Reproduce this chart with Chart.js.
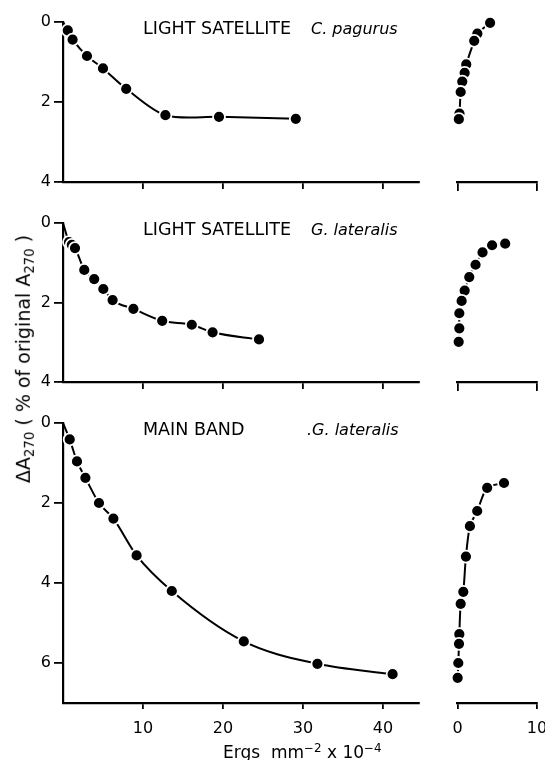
<!DOCTYPE html>
<html>
<head>
<meta charset="utf-8">
<script src="https://cdn.jsdelivr.net/npm/chart.js@4"></script>
<style>
  body { margin: 0; background: #fff; }
  #wrap { position: relative; width: 545px; height: 760px; overflow: hidden; background: #fff;
          font-family: "DejaVu Sans", sans-serif; color: #000; }
  #wrap canvas { position: absolute; left: 0; top: 0; }
  .lbl { position: absolute; white-space: nowrap; line-height: 1; transform: translateY(-50%); }
  .name { font-size: 17.5px; }
  .sp { font-size: 16px; font-style: italic; }
  #ytitle { position: absolute; left: 25px; top: 359px; white-space: nowrap; font-size: 19px; line-height: 1;
            transform: translate(-50%, -50%) rotate(-90deg); }
  #xtitle { position: absolute; left: 223px; top: 752px; white-space: nowrap; font-size: 17px; line-height: 1;
            transform: translateY(-50%); }
  sub { font-size: 0.7em; vertical-align: -0.3em; }
  sup { font-size: 0.7em; vertical-align: 0.55em; }
</style>
</head>
<body>
<div id="wrap">
  <canvas id="tl" width="560" height="760"></canvas>
  <canvas id="tr" width="560" height="760"></canvas>
  <canvas id="ml" width="560" height="760"></canvas>
  <canvas id="mr" width="560" height="760"></canvas>
  <canvas id="bl" width="560" height="760"></canvas>
  <canvas id="br" width="560" height="760"></canvas>

  <div class="lbl name" style="left:143px; top:29px;">LIGHT SATELLITE</div>
  <div class="lbl sp" style="left:311px; top:29px;">C. pagurus</div>
  <div class="lbl name" style="left:143px; top:230px;">LIGHT SATELLITE</div>
  <div class="lbl sp" style="left:311px; top:230px;">G. lateralis</div>
  <div class="lbl name" style="left:143px; top:430px;">MAIN BAND</div>
  <div class="lbl sp" style="left:307px; top:430px;">.G. lateralis</div>

  <div id="ytitle">&Delta;A<sub>270</sub> ( % of original A<sub>270</sub> )</div>
  <div id="xtitle">Ergs&nbsp; mm<sup>&minus;2</sup> x 10<sup>&minus;4</sup></div>
</div>

<script>
// Light satellite, C. pagurus
const pagurusDose = [0.6, 1.2, 3.0, 5.0, 7.9, 12.8, 19.5, 29.1];
const pagurusLoss = [0.21, 0.44, 0.85, 1.16, 1.67, 2.33, 2.37, 2.42];
const pagurusInsetX = [4.1, 2.5, 2.1, 1.1, 0.9, 0.6, 0.4, 0.25, 0.17];
const pagurusInsetY = [0.02, 0.29, 0.47, 1.06, 1.27, 1.49, 1.75, 2.29, 2.43];

// Light satellite, G. lateralis
const lateralisDose = [0.75, 1.1, 1.5, 2.66, 3.9, 5.04, 6.2, 8.8, 12.4, 16.1, 18.7, 24.5];
const lateralisLoss = [0.48, 0.55, 0.63, 1.18, 1.41, 1.66, 1.94, 2.16, 2.46, 2.56, 2.75, 2.93];
const lateralisInsetX = [6.0, 4.35, 3.15, 2.27, 1.48, 0.9, 0.52, 0.23, 0.23, 0.15];
const lateralisInsetY = [0.52, 0.56, 0.74, 1.05, 1.36, 1.7, 1.96, 2.27, 2.65, 2.99];

// Main band, G. lateralis
const mainDose = [0.84, 1.75, 2.8, 4.5, 6.3, 9.2, 13.6, 22.6, 31.8, 41.2];
const mainLoss = [0.41, 0.96, 1.37, 2.0, 2.39, 3.31, 4.2, 5.46, 6.02, 6.28];
const mainInsetX = [5.85, 3.73, 2.48, 1.56, 1.06, 0.73, 0.4, 0.23, 0.19, 0.1, 0.02];
const mainInsetY = [1.5, 1.62, 2.2, 2.58, 3.34, 4.22, 4.52, 5.28, 5.52, 6.0, 6.37];

// curves start at the origin
const curveStart = 0;

const doseTicks = [0, 10, 20, 30, 40];
const insetTicks = [0, 10];

const W = 560, H = 760;
const FONT = { family: 'DejaVu Sans', size: 16 };

function makePanel(id, xs, ys, cfg) {
  const fromOrigin = cfg.fromOrigin;
  const px = fromOrigin ? [curveStart].concat(xs) : xs;
  const py = fromOrigin ? [curveStart].concat(ys) : ys;
  const yWidth = cfg.showY ? 63 : 0;
  const xHeight = 40;

  new Chart(document.getElementById(id), {
    type: 'scatter',
    data: {
      datasets: [{
        data: px.map((x, i) => ({ x: x, y: py[i] })),
        showLine: true,
        borderColor: '#000',
        borderWidth: 2,
        cubicInterpolationMode: cfg.monotone ? 'monotone' : 'default',
        tension: cfg.tension || 0,
        pointRadius: ctx => (fromOrigin && ctx.dataIndex === 0) ? 0 : 6,
        pointBackgroundColor: '#000',
        pointBorderColor: '#fff',
        pointBorderWidth: 1.8,
        clip: false
      }]
    },
    options: {
      responsive: false,
      animation: false,
      devicePixelRatio: 1,
      events: [],
      layout: {
        padding: {
          left: cfg.left - yWidth,
          right: W - cfg.right,
          top: cfg.top,
          bottom: H - cfg.bottom - xHeight
        }
      },
      plugins: { legend: { display: false }, tooltip: { enabled: false } },
      scales: {
        x: {
          type: 'linear',
          min: 0,
          max: cfg.xmax,
          afterBuildTicks: s => { s.ticks = cfg.xticks.map(v => ({ value: v })); },
          afterFit: s => { s.height = xHeight; },
          ticks: {
            display: cfg.xlabels,
            font: FONT,
            color: '#000',
            padding: 10,
            maxRotation: 0,
            callback: v => (cfg.hideZero && v === 0) ? '' : v
          },
          grid: {
            drawOnChartArea: false,
            drawTicks: true,
            tickLength: cfg.xTickLen,
            lineWidth: 1.8,
            color: ctx => (cfg.hideZero && ctx.tick && ctx.tick.value === 0) ? 'rgba(0,0,0,0)' : '#000'
          },
          border: { display: true, color: '#000', width: 2.2 }
        },
        y: {
          type: 'linear',
          display: cfg.showY,
          reverse: true,
          min: 0,
          max: cfg.ymax,
          afterBuildTicks: s => { s.ticks = cfg.yticks.map(v => ({ value: v })); },
          afterFit: s => { s.width = yWidth; },
          ticks: { font: FONT, color: '#000', padding: 3 },
          grid: {
            drawOnChartArea: false,
            drawTicks: true,
            tickLength: 9,
            lineWidth: 1.8,
            color: '#000'
          },
          border: { display: true, color: '#000', width: 2.2 }
        }
      }
    }
  });
}

const smallY = [0, 2, 4];
const bigY = [0, 2, 4, 6];

makePanel('tl', pagurusDose, pagurusLoss,
  { fromOrigin: true, showY: true, tension: 0.3, left: 63, right: 419, top: 22, bottom: 182, xmax: 44.5, ymax: 4,
    xticks: doseTicks, yticks: smallY, xlabels: false, hideZero: true, xTickLen: 7 });
makePanel('tr', pagurusInsetX, pagurusInsetY,
  { fromOrigin: false, showY: false, tension: 0.25, left: 457.5, right: 537, top: 22, bottom: 182, xmax: 10, ymax: 4,
    xticks: insetTicks, yticks: smallY, xlabels: false, hideZero: false, xTickLen: 9 });

makePanel('ml', lateralisDose, lateralisLoss,
  { fromOrigin: true, showY: true, monotone: true, left: 63, right: 419, top: 223, bottom: 382, xmax: 44.5, ymax: 4,
    xticks: doseTicks, yticks: smallY, xlabels: false, hideZero: true, xTickLen: 7 });
makePanel('mr', lateralisInsetX, lateralisInsetY,
  { fromOrigin: false, showY: false, tension: 0.25, left: 457.5, right: 537, top: 223, bottom: 382, xmax: 10, ymax: 4,
    xticks: insetTicks, yticks: smallY, xlabels: false, hideZero: false, xTickLen: 9 });

makePanel('bl', mainDose, mainLoss,
  { fromOrigin: true, showY: true, monotone: true, left: 63, right: 419, top: 423, bottom: 703, xmax: 44.5, ymax: 7,
    xticks: doseTicks, yticks: bigY, xlabels: true, hideZero: true, xTickLen: 6 });
makePanel('br', mainInsetX, mainInsetY,
  { fromOrigin: false, showY: false, tension: 0.25, left: 457.5, right: 537, top: 423, bottom: 703, xmax: 10, ymax: 7,
    xticks: insetTicks, yticks: bigY, xlabels: true, hideZero: false, xTickLen: 6 });
</script>
</body>
</html>
